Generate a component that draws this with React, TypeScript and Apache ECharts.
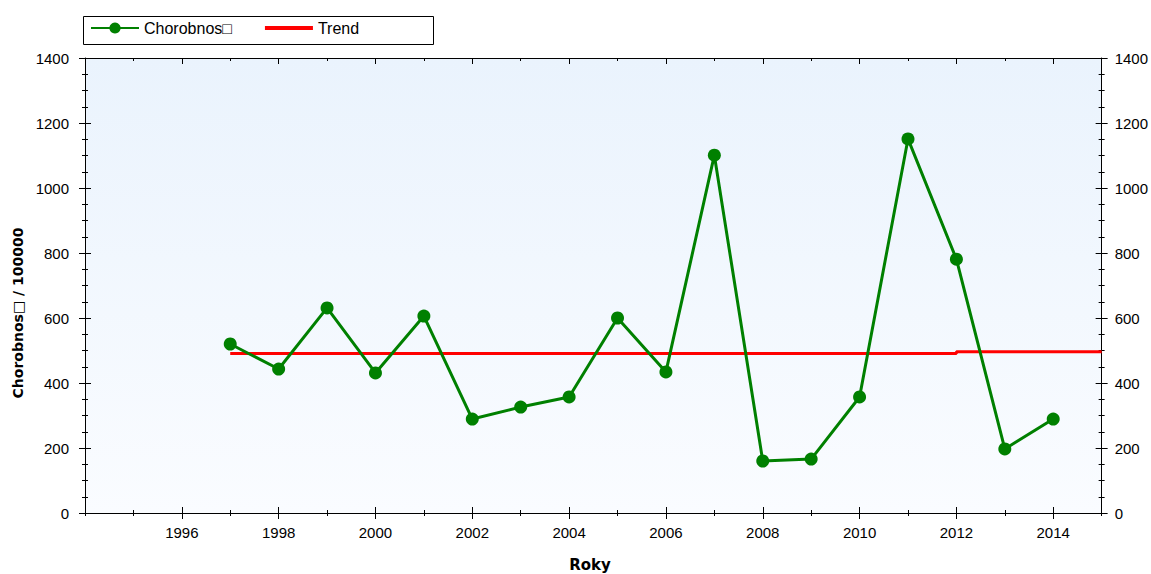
import React, { useEffect, useRef } from "react";
import * as echarts from "echarts";

const years = [1997, 1998, 1999, 2000, 2001, 2002, 2003, 2004, 2005, 2006, 2007, 2008, 2009, 2010, 2011, 2012, 2013, 2014];
const incidence = [520, 443, 631, 431, 606, 289, 326, 357, 600, 434, 1101, 160, 166, 357, 1151, 781, 197, 289];
const trendYears = [1997, 2012, 2012, 2015];
const trendValues = [491, 491, 496, 496];
const seriesName = "Chorobnos\u25A1";
const trendName = "Trend";
const yTitle = "Chorobnos\u25A1 / 100000";
const xTitle = "Roky";

const X_MIN = 1994;
const X_MAX = 2015;
const Y_MIN = 0;
const Y_MAX = 1400;

export default function App() {
  const ref = useRef<HTMLDivElement>(null);
  useEffect(() => {
    if (!ref.current) return;
    const chart = echarts.init(ref.current, undefined, { renderer: "svg" });
    const font = "'Liberation Sans', Arial, sans-serif";
    const lineStyle = { color: "#000", width: 1 };
    const xBase = (pos: string, interval: number, inside: boolean, len: number, showLine: boolean, labels: boolean) => ({
      type: "value",
      position: pos,
      min: X_MIN,
      max: X_MAX,
      interval,
      splitLine: { show: false },
      axisLine: { show: showLine, lineStyle },
      axisTick: { show: true, inside, length: len, lineStyle },
      axisLabel: labels
        ? {
            show: true,
            margin: 12,
            fontSize: 15,
            fontFamily: font,
            color: "#000",
            showMaxLabel: false,
            showMinLabel: false,
            formatter: (v: number) => (v % 2 === 0 && v > X_MIN && v < X_MAX ? String(v) : ""),
          }
        : { show: false },
    });
    const yBase = (pos: string, inside: boolean, showLine: boolean, labels: boolean, margin: number) => ({
      type: "value",
      position: pos,
      min: Y_MIN,
      max: Y_MAX,
      interval: 200,
      splitLine: { show: false },
      axisLine: { show: showLine, lineStyle },
      axisTick: { show: true, inside, length: 6, lineStyle },
      minorTick: { show: true, splitNumber: 4, length: 3, lineStyle },
      axisLabel: labels
        ? { show: true, margin, fontSize: 15, fontFamily: font, color: "#000", formatter: (v: number) => String(v) }
        : { show: false },
    });
    chart.setOption({
      animation: false,
      backgroundColor: "#fff",
      grid: {
        left: 85,
        right: 47,
        top: 58,
        bottom: 61,
        show: true,
        borderWidth: 0,
        backgroundColor: {
          type: "linear",
          x: 0,
          y: 0,
          x2: 0,
          y2: 1,
          colorStops: [
            { offset: 0, color: "#eaf3fd" },
            { offset: 1, color: "#fafcff" },
          ],
        },
      },
      graphic: [
        {
          type: "rect",
          z: 0,
          shape: { x: 83.5, y: 16.5, width: 350, height: 28 },
          style: { fill: "#fff", stroke: "#000", lineWidth: 1 },
        },
        {
          type: "text",
          x: 18,
          y: 313,
          rotation: Math.PI / 2,
          style: {
            text: yTitle,
            font: "bold 14px 'DejaVu Sans', Verdana, sans-serif",
            fill: "#000",
            textAlign: "center",
            textVerticalAlign: "middle",
          },
        },
        {
          type: "text",
          x: 590,
          y: 565,
          style: {
            text: xTitle,
            font: "bold 15px 'DejaVu Sans', Verdana, sans-serif",
            fill: "#000",
            textAlign: "center",
            textVerticalAlign: "middle",
          },
        },
      ],
      legend: {
        left: 86,
        top: 18,
        z: 10,
        itemWidth: 48,
        itemHeight: 14,
        itemGap: 33,
        padding: [2, 4],
        data: [
          { name: seriesName },
          { name: trendName, icon: "path://M0,0 L48,0 L48,4 L0,4 Z", itemStyle: { color: "#ff0000" } },
        ],
        textStyle: { fontSize: 16, fontFamily: font, color: "#000" },
      },
      xAxis: [
        xBase("bottom", 2, false, 6, true, true),
        xBase("bottom", 2, true, 6, false, false),
        xBase("bottom", 1, false, 3, false, false),
        xBase("bottom", 1, true, 3, false, false),
        xBase("top", 2, true, 6, true, false),
        xBase("top", 1, true, 3, false, false),
      ],
      yAxis: [
        yBase("left", false, true, true, 16),
        yBase("left", true, false, false, 0),
        yBase("right", false, true, true, 13),
        yBase("right", true, false, false, 0),
      ],
      series: [
        {
          name: trendName,
          type: "line",
          xAxisIndex: 0,
          yAxisIndex: 0,
          data: trendYears.map((y, i) => [y, trendValues[i]]),
          symbol: "none",
          lineStyle: { color: "#ff0000", width: 3 },
          itemStyle: { color: "#ff0000" },
          z: 2,
        },
        {
          name: seriesName,
          type: "line",
          xAxisIndex: 0,
          yAxisIndex: 0,
          data: years.map((y, i) => [y, incidence[i]]),
          symbol: "circle",
          symbolSize: 13,
          lineStyle: { color: "#008000", width: 3 },
          itemStyle: { color: "#008000" },
          z: 3,
        },
      ],
    });
    return () => chart.dispose();
  }, []);
  return <div ref={ref} style={{ width: 1151, height: 574, position: "absolute", left: 0, top: 0 }} />;
}
